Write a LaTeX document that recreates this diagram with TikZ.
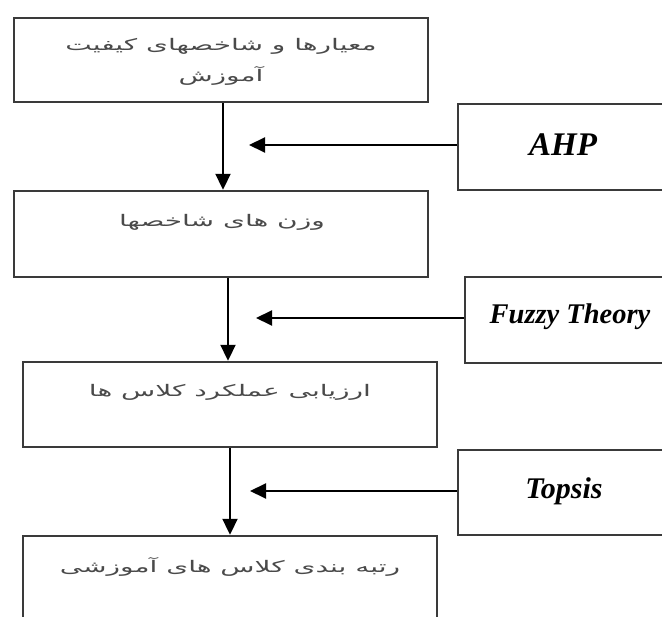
\documentclass[tikz,border=0pt]{standalone}
\usepackage{fontspec}
\usepackage{graphicx}
\setmainfont{Liberation Serif}
\newfontfamily\arabicfont[Script=Arabic]{DejaVu Sans}
\TeXXeTstate=1
\usetikzlibrary{arrows.meta}
\definecolor{boxgray}{HTML}{3A3A3A}
\definecolor{textgray}{HTML}{4A4A4A}
\newcommand{\wide}[1]{\scalebox{1.75}[1]{\beginR #1\endR}}
\begin{document}
\begin{tikzpicture}[x=1pt,y=-1pt,
  mainbox/.style={draw=boxgray, line width=2.4pt, minimum width=414pt, inner sep=0pt},
  methodbox/.style={draw=boxgray, line width=2.4pt, minimum width=210pt, inner sep=0pt},
  ptext/.style={font=\arabicfont\fontsize{16}{31}\selectfont, text=textgray, align=center, inner sep=0pt},
  mlabel/.style={font=\bfseries\itshape\fontsize{29}{30}\selectfont, inner sep=0pt},
  arr/.style={line width=2pt, -{Triangle[length=16pt,width=15pt]}}]
\useasboundingbox (0,0) rectangle (662,617);
\clip (0,0) rectangle (662,617);
\fill[white] (0,0) rectangle (662,617);
% main boxes
\node[mainbox, minimum height=84pt] (b1) at (221,60) {};
\node[mainbox, minimum height=86pt] (b2) at (221,234) {};
\node[mainbox, minimum height=85pt] (b3) at (230,404.5) {};
\node[mainbox, minimum height=120pt] (b4) at (230,596) {};
% method boxes
\node[methodbox, minimum height=86pt] (ahp) at (563,147) {};
\node[methodbox, minimum height=86pt] (fuzzy) at (570,320) {};
\node[methodbox, minimum height=85pt] (topsis) at (563,492.5) {};
% texts
\node[ptext] (t1) at (221,62) {\wide{معیارها و شاخصهای کیفیت}\\\wide{آموزش}};
\node[ptext] (t2) at (222,222) {\wide{وزن های شاخصها}};
\node[ptext] (t3) at (230,392) {\wide{ارزیابی عملکرد کلاس ها}};
\node[ptext] (t4) at (230,567) {\wide{رتبه بندی کلاس های آموزشی}};
\node[mlabel, font=\bfseries\itshape\fontsize{33}{34}\selectfont] (l1) at (563,145) {AHP};
\node[mlabel, font=\bfseries\itshape\fontsize{28.5}{30}\selectfont] (l2) at (570,317) {Fuzzy Theory};
\node[mlabel, font=\bfseries\itshape\fontsize{30}{31}\selectfont] (l3) at (564,491) {Topsis};
% vertical arrows
\draw[arr] ([xshift=2pt]b1.south) -- ([xshift=2pt]b1.south |- b2.north);
\draw[arr] ([xshift=7pt]b2.south) -- ([xshift=7pt]b2.south |- b3.north);
\draw[arr] (b3.south) -- (b3.south |- b4.north);
% horizontal arrows
\coordinate (h1) at (249,145);
\coordinate (h2) at (256,318);
\coordinate (h3) at (250,491);
\draw[arr] (ahp.west |- h1) -- (h1);
\draw[arr] (fuzzy.west |- h2) -- (h2);
\draw[arr] (topsis.west |- h3) -- (h3);
\end{tikzpicture}
\end{document}
